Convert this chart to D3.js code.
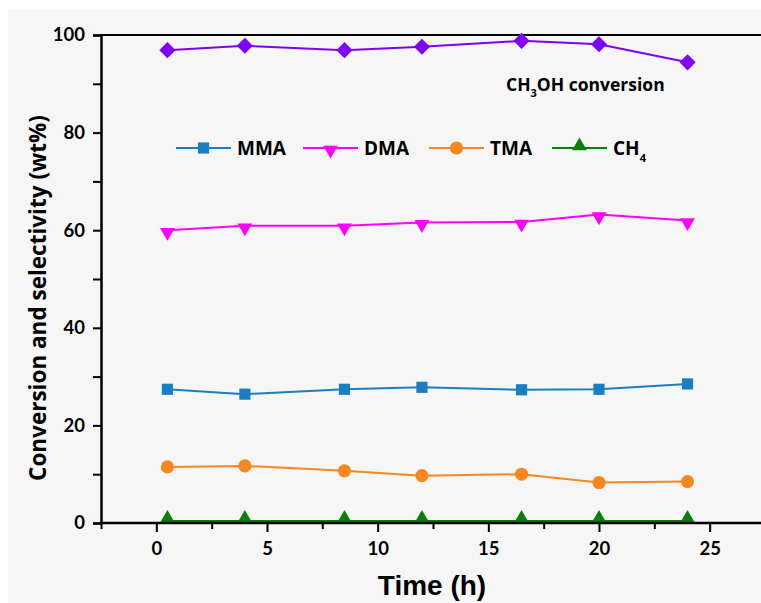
<!DOCTYPE html>
<html>
<head>
<meta charset="utf-8">
<script src="https://cdn.jsdelivr.net/npm/d3@7"></script>
<style>
  body { margin: 0; background: #fff; }
  text { font-family: Lato, "Open Sans", sans-serif; font-weight: bold; }
</style>
</head>
<body>
<div id="chart"></div>
<script>
// time on stream (h)
var times = [0.5, 4, 8.5, 12, 16.5, 20, 24]

var methanolConv = [96.9, 97.8, 96.9, 97.6, 98.8, 98.1, 94.4]
var mma = [27.4, 26.4, 27.4, 27.8, 27.3, 27.4, 28.5]
var dma = [60.0, 60.9, 60.9, 61.6, 61.7, 63.2, 62.0]
var tma = [11.5, 11.7, 10.7, 9.7, 10.0, 8.3, 8.5]
var ch4 = [0.3, 0.3, 0.3, 0.3, 0.3, 0.3, 0.3]

var xTicks = [0, 5, 10, 15, 20, 25]
var yTicks = [0, 20, 40, 60, 80, 100]

var width = 761, height = 603

var svg = d3.select("#chart").append("svg")
  .attr("width", width)
  .attr("height", height)

svg.append("rect")
  .attr("x", 8).attr("y", 10)
  .attr("width", width - 8).attr("height", height - 10)
  .attr("fill", "#f6f6f6")

var x = d3.scaleLinear().domain([-2.5, 27.5]).range([101, 765])
var y = d3.scaleLinear().domain([0, 100]).range([523, 35])

var g = svg.append("g")

// frame top line
g.append("line")
  .attr("x1", x(-2.5)).attr("x2", width)
  .attr("y1", y(100)).attr("y2", y(100))
  .attr("stroke", "#000").attr("stroke-width", 2)

var series = [
  {name: "CH3OH", values: methanolConv, color: "#7f00ff", shape: "diamond"},
  {name: "DMA", values: dma, color: "#ff00ff", shape: "down"},
  {name: "MMA", values: mma, color: "#1a7fc1", shape: "square"},
  {name: "TMA", values: tma, color: "#f7871f", shape: "circle"},
  {name: "CH4", values: ch4, color: "#0a800a", shape: "up"}
]

function symbolPath(shape) {
  if (shape === "diamond") return d3.symbol().type(d3.symbolSquare).size(130)()
  if (shape === "square") return d3.symbol().type(d3.symbolSquare).size(125)()
  if (shape === "circle") return d3.symbol().type(d3.symbolCircle).size(135)()
  return d3.symbol().type(d3.symbolTriangle).size(95)()
}
function symbolRotate(shape) {
  if (shape === "diamond") return 45
  if (shape === "down") return 180
  return 0
}

var line = d3.line()
  .x(function(d, i) { return x(times[i]) })
  .y(function(d) { return y(d) })

series.forEach(function(s) {
  g.append("path")
    .datum(s.values)
    .attr("d", line)
    .attr("fill", "none")
    .attr("stroke", s.color)
    .attr("stroke-width", s.name === "CH4" ? 3 : 2)

  g.selectAll(".pt-" + s.name)
    .data(s.values)
    .enter()
    .append("path")
      .attr("d", symbolPath(s.shape))
      .attr("transform", function(d, i) {
        var dy = s.shape === "up" ? -3 : (s.shape === "down" ? 2 : 0)
        return "translate(" + x(times[i]) + "," + (y(d) + dy) + ") rotate(" + symbolRotate(s.shape) + ")"
      })
      .attr("fill", s.color)
})

// axes
var xAxis = d3.axisBottom(x)
  .tickValues(d3.range(-2.5, 27.6, 2.5))
  .tickSize(8)
  .tickFormat(function(d) { return xTicks.indexOf(d) >= 0 ? d : "" })

var gx = svg.append("g")
  .attr("transform", "translate(0," + y(0) + ")")
  .call(xAxis)
gx.select(".domain").attr("stroke-width", 2.5).attr("d", "M" + x(-2.5) + ",0H" + width)
gx.selectAll(".tick line").attr("stroke-width", 2)
  .attr("y2", function(d) { return xTicks.indexOf(d) >= 0 ? 9 : 6 })
gx.selectAll(".tick text")
  .attr("y", 19)
  .style("font-size", "18.5px")
  .attr("fill", "#000")

var yAxis = d3.axisLeft(y)
  .tickValues(d3.range(0, 101, 10))
  .tickSize(8)
  .tickFormat(function(d) { return yTicks.indexOf(d) >= 0 ? d : "" })

var gy = svg.append("g")
  .attr("transform", "translate(" + x(-2.5) + ",0)")
  .call(yAxis)
gy.select(".domain").attr("stroke-width", 2.5)
gy.selectAll(".tick line").attr("stroke-width", 2)
gy.selectAll(".tick text")
  .attr("x", -16)
  .style("font-size", "18.5px")
  .attr("fill", "#000")

// axis titles
svg.append("text")
  .attr("transform", "translate(46,298) rotate(-90)")
  .attr("text-anchor", "middle")
  .style("font-family", "'Open Sans', sans-serif")
  .style("font-size", "22.5px")
  .text("Conversion and selectivity (wt%)")

svg.append("text")
  .attr("x", 432).attr("y", 595)
  .attr("text-anchor", "middle")
  .style("font-family", "'Liberation Sans', Arial, sans-serif")
  .style("font-size", "28px")
  .text("Time (h)")

// annotation
var ann = svg.append("text")
  .attr("x", 506).attr("y", 91)
  .style("font-family", "'Open Sans', sans-serif")
  .style("font-size", "17.5px")
ann.append("tspan").text("CH")
ann.append("tspan").attr("dy", 6).style("font-size", "11px").text("3")
ann.append("tspan").attr("dy", -6).text("OH conversion")

// legend
var legendItems = [
  {label: "MMA", s: series[2], x0: 176},
  {label: "DMA", s: series[1], x0: 303},
  {label: "TMA", s: series[3], x0: 429},
  {label: "CH4", s: series[4], x0: 552}
]
var ly = 148
legendItems.forEach(function(it) {
  var lg = svg.append("g")
  lg.append("line")
    .attr("x1", it.x0).attr("x2", it.x0 + 55)
    .attr("y1", ly).attr("y2", ly)
    .attr("stroke", it.s.color).attr("stroke-width", 2)
  var dy = it.s.shape === "up" ? -2 : (it.s.shape === "down" ? 2 : 0)
  lg.append("path")
    .attr("d", symbolPath(it.s.shape))
    .attr("transform", "translate(" + (it.x0 + 27.5) + "," + (ly + dy) + ") rotate(" + symbolRotate(it.s.shape) + ")")
    .attr("fill", it.s.color)
  var t = lg.append("text")
    .attr("x", it.x0 + 61).attr("y", ly + 7)
    .style("font-family", "'Open Sans', sans-serif")
    .style("font-size", "19px")
  if (it.label === "CH4") {
    t.append("tspan").text("CH")
    t.append("tspan").attr("dy", 7).style("font-size", "11px").text("4")
  } else {
    t.text(it.label)
  }
})
</script>
</body>
</html>
